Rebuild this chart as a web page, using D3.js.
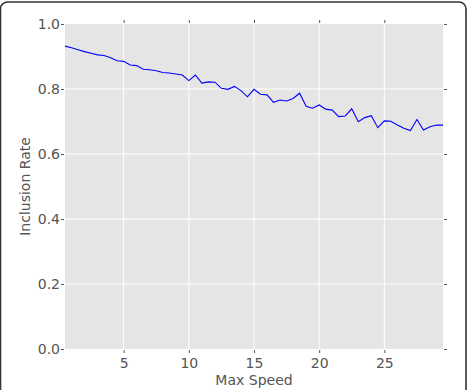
<!DOCTYPE html>
<html>
<head>
<meta charset="utf-8">
<script src="https://cdn.jsdelivr.net/npm/d3@7"></script>
<style>
html,body{margin:0;padding:0;background:#fff;}
svg{display:block;font-family:"DejaVu Sans",sans-serif;}
</style>
</head>
<body>
<svg id="chart" width="470" height="390"></svg>
<script>
const speeds = d3.range(59).map(i => 0.5 + i * 0.5);
const inclusionRate = [
  0.932, 0.927, 0.921, 0.915, 0.910, 0.905, 0.903, 0.896, 0.887, 0.885,
  0.874, 0.872, 0.861, 0.859, 0.856, 0.851, 0.849, 0.846, 0.843, 0.826,
  0.843, 0.818, 0.822, 0.821, 0.802, 0.799, 0.808, 0.795, 0.776, 0.799,
  0.784, 0.782, 0.759, 0.766, 0.763, 0.771, 0.787, 0.747, 0.741, 0.751,
  0.738, 0.735, 0.715, 0.717, 0.739, 0.699, 0.712, 0.718, 0.681, 0.702,
  0.701, 0.689, 0.679, 0.672, 0.706, 0.674, 0.684, 0.689, 0.689
];
const xTicks = [5, 10, 15, 20, 25];
const yTicks = [0.0, 0.2, 0.4, 0.6, 0.8, 1.0];
const xLabel = "Max Speed";
const yLabel = "Inclusion Rate";

const svg = d3.select("#chart");
const m = {left: 65, top: 24, right: 443, bottom: 349};

// frame
svg.append("rect").attr("x", 0.5).attr("y", 2).attr("width", 465.5).attr("height", 430)
  .attr("rx", 7).attr("fill", "none").attr("stroke", "#333").attr("stroke-width", 1.6);

const x = d3.scaleLinear().domain([0.5, 29.5]).range([m.left, m.right]);
const y = d3.scaleLinear().domain([0, 1]).range([m.bottom, m.top]);

svg.append("rect").attr("x", m.left).attr("y", m.top)
  .attr("width", m.right - m.left).attr("height", m.bottom - m.top).attr("fill", "#e5e5e5");

// grid
svg.append("g").selectAll("line").data(xTicks).join("line")
  .attr("x1", d => x(d)).attr("x2", d => x(d)).attr("y1", m.top).attr("y2", m.bottom)
  .attr("stroke", "#fff").attr("stroke-width", 1);
svg.append("g").selectAll("line").data(yTicks.slice(1, -1)).join("line")
  .attr("y1", d => y(d)).attr("y2", d => y(d)).attr("x1", m.left).attr("x2", m.right)
  .attr("stroke", "#fff").attr("stroke-width", 1);

function styleAxis(g) {
  g.select(".domain").remove();
  g.selectAll(".tick line").attr("stroke", "#555").attr("stroke-width", 1);
  g.selectAll(".tick text").attr("fill", "#555").style("font-size", "14px")
    .style("font-family", '"DejaVu Sans", sans-serif');
}

svg.append("g").attr("transform", `translate(0,${m.bottom + 1})`)
  .call(d3.axisBottom(x).tickValues(xTicks).tickSize(3).tickPadding(5).tickFormat(d3.format("d")))
  .call(styleAxis);
svg.append("g").attr("transform", `translate(0,${m.top - 1})`)
  .call(d3.axisTop(x).tickValues(xTicks).tickSize(3).tickFormat(""))
  .call(styleAxis);
svg.append("g").attr("transform", `translate(${m.left - 1},0)`)
  .call(d3.axisLeft(y).tickValues(yTicks).tickSize(3).tickPadding(1).tickFormat(d3.format(".1f")))
  .call(styleAxis);
svg.append("g").attr("transform", `translate(${m.right + 1},0)`)
  .call(d3.axisRight(y).tickValues(yTicks).tickSize(3).tickFormat(""))
  .call(styleAxis);

// line
const line = d3.line().x((d, i) => x(speeds[i])).y(d => y(d));
svg.append("path").datum(inclusionRate).attr("d", line)
  .attr("fill", "none").attr("stroke", "#0000ff").attr("stroke-width", 1.1);

svg.append("text").attr("x", (m.left + m.right) / 2).attr("y", 385)
  .attr("text-anchor", "middle").attr("fill", "#555").style("font-size", "14px").text(xLabel);
svg.append("text").attr("transform", `translate(30,${(m.top + m.bottom) / 2}) rotate(-90)`)
  .attr("text-anchor", "middle").attr("fill", "#555").style("font-size", "14px").text(yLabel);
</script>
</body>
</html>
